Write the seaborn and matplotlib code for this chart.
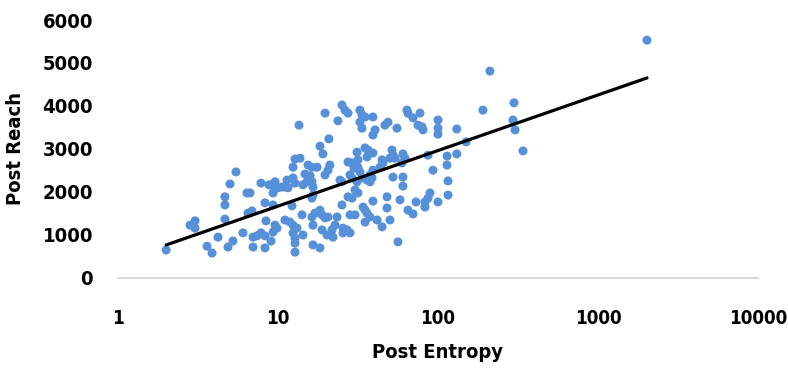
import matplotlib
matplotlib.use("Agg")
import matplotlib.pyplot as plt
import seaborn as sns
import pandas as pd

# Post Entropy (x, log scale) and Post Reach (y)
entropy = [
    2.0, 2.82, 3.03, 3.03, 3.60, 3.87, 4.22, 4.66, 4.66, 4.66, 5.01, 5.46, 4.87, 5.23,
    6.04, 6.40, 6.68, 6.49, 6.88, 7.83, 8.29, 8.41, 6.98, 7.39, 7.83, 8.29, 6.98, 8.29,
    8.78, 9.04,
    9.18, 9.58, 9.31, 10.0, 10.59, 11.06, 11.55, 11.38, 12.41, 12.77, 14.33, 15.18, 16.31,
    16.55, 24.4, 25.1, 29.0, 31.2, 30.3, 31.6, 29.0, 27.4, 16.31, 16.55, 9.31, 12.23,
    11.06, 11.89, 12.41, 14.13, 16.31, 17.03, 18.30, 18.84, 19.67, 20.53, 23.37, 22.71,
    25.1, 28.2, 30.3, 9.58, 9.86, 9.31, 13.15, 12.41, 12.77, 14.33, 16.55, 18.84, 20.24,
    21.75, 22.06, 25.48, 26.99, 28.2, 25.48, 12.77, 12.77, 16.55, 18.30,
    13.53, 19.67, 25.1, 26.2, 27.4, 23.7, 20.8, 18.30, 19.1, 12.77, 13.73, 12.41, 15.4,
    16.31, 17.53, 14.75, 15.85, 21.1, 20.53, 19.67, 27.4, 29.0, 28.2, 29.85,
    32.5, 33.5, 35.0, 32.5, 33.5, 39.2, 40.4, 39.2, 46.6, 48.7, 55.4, 64.0, 64.9, 69.8,
    77.2, 75.0, 79.4, 80.6, 100, 100, 100, 35.0, 36.5, 36.0, 39.2, 31.2, 31.6, 44.7,
    45.3, 43.4, 51.6, 52.3, 50.1, 53.9, 60.4, 62.2, 59.6, 86.6, 113.8, 93.0, 39.2, 37.6,
    52.3, 60.4, 31.6, 32.5,
    33.5, 36.0, 38.7, 37.6, 60.4, 115.5, 115.5, 89.1, 86.6, 82.9, 82.9, 100, 72.9, 48.0,
    39.2, 57.9, 34.0, 35.0, 36.0, 37.6, 48.0, 64.9, 69.8, 41.6, 44.7, 50.1, 35.0, 56.2,
    2024, 211, 298.5, 191, 294, 303, 131, 150, 340, 114, 131,
]
reach = [
    640, 1220, 1320, 1150, 730, 570, 940, 1360, 1690, 1880, 2180, 2460, 710, 850,
    1040, 1970, 1970, 1500, 1550, 2200, 1740, 1320, 940, 970, 1040, 970, 710, 690,
    2160, 850,
    2160, 2230, 1970, 2090, 2110, 2110, 2090, 2270, 2320, 2200, 2160, 2230, 2230,
    2110, 2270, 2230, 2320, 2230, 2040, 1970, 1850, 1880, 1850, 1920, 1690, 1670,
    1340, 1290, 1220, 1460, 1410, 1500, 1570, 1460, 1390, 1410, 1410, 1220,
    1690, 1460, 1460, 1220, 1150, 1060, 1150, 1040, 920, 990, 1220, 1110, 990,
    1110, 940, 1150, 1110, 1040, 1040, 800, 590, 760, 690,
    3550, 3830, 4020, 3900, 3830, 3650, 3230, 3060, 2880, 2760, 2780, 2570, 2620,
    2570, 2570, 2410, 2370, 2620, 2500, 2390, 2690, 2670, 2390, 2550,
    3900, 3790, 3740, 3620, 3480, 3740, 3440, 3320, 3550, 3620, 3480, 3900, 3830, 3720,
    3830, 3550, 3510, 3440, 3670, 3480, 3340, 3020, 2970, 2810, 2900, 2920, 2740, 2740,
    2670, 2570, 2970, 2850, 2780, 2780, 2880, 2780, 2670, 2850, 2620, 2500, 2500, 2390,
    2340, 2340, 2570, 2460,
    2320, 2270, 2320, 2230, 2130, 2250, 1920, 1970, 1850, 1760, 1640, 1760, 1760, 1880,
    1780, 1810, 1640, 1570, 1500, 1410, 1620, 1570, 1480, 1340, 1180, 1340, 1290, 830,
    5530, 4810, 4070, 3900, 3670, 3440, 3460, 3160, 2950, 2830, 2880,
]

x_ticks = [1, 10, 100, 1000, 10000]
x_tick_labels = ["1", "10", "100", "1000", "10000"]
y_ticks = [0, 1000, 2000, 3000, 4000, 5000, 6000]

df = pd.DataFrame({"Post Entropy": entropy, "Post Reach": reach})

sns.set_theme(style="white")
FONT = ["DejaVu Sans Condensed", "Liberation Sans Narrow", "DejaVu Sans"]
plt.rcParams["font.family"] = FONT
plt.rcParams["font.stretch"] = "condensed"
for key in ["text.color", "axes.labelcolor", "xtick.color", "ytick.color"]:
    plt.rcParams[key] = "black"

fig = plt.figure(figsize=(7.88, 3.73), dpi=100)
ax = fig.add_axes([118 / 788, 1 - 277.5 / 373, 640 / 788, 257.5 / 373])

sns.scatterplot(data=df, x="Post Entropy", y="Post Reach", ax=ax,
                color="#5590D9", s=42, edgecolor="none", linewidth=0, zorder=2)
sns.regplot(data=df, x="Post Entropy", y="Post Reach", ax=ax, logx=True,
            scatter=False, ci=None, truncate=True,
            line_kws={"color": "black", "linewidth": 2.3, "zorder": 3})

ax.set_xscale("log")
ax.set_xlim(1, 10000)
ax.set_ylim(0, 6000)
ax.set_xticks(x_ticks)
ax.set_xticklabels(x_tick_labels)
ax.xaxis.set_minor_locator(matplotlib.ticker.NullLocator())
ax.set_yticks(y_ticks)

for s in ["top", "right", "left"]:
    ax.spines[s].set_visible(False)
ax.spines["bottom"].set_color("#D9D9D9")
ax.spines["bottom"].set_linewidth(1.5)
ax.spines["bottom"].set_zorder(1)

ax.tick_params(axis="both", length=0, colors="black")
ax.tick_params(axis="y", pad=18)
ax.tick_params(axis="x", pad=23)
for lab in ax.get_yticklabels():
    lab.set_fontweight("bold")
    lab.set_fontsize(14.5)
    lab.set_family(FONT)
    lab.set_fontstretch("condensed")
    lab.set_color("black")
for lab in ax.get_xticklabels():
    lab.set_fontweight("bold")
    lab.set_fontsize(13.5)
    lab.set_family(FONT)
    lab.set_fontstretch("condensed")
    lab.set_color("black")

ax.set_xlabel("Post Entropy", fontsize=14.5, fontweight="bold", family=FONT,
              fontstretch="condensed", color="black")
ax.set_ylabel("Post Reach", fontsize=14.5, fontweight="bold", family=FONT,
              fontstretch="condensed", color="black")
ax.xaxis.set_label_coords(0.5, -0.255)
ax.yaxis.set_label_coords(-0.145, 0.5)
ax.grid(False)

fig.savefig("out.png", dpi=100, facecolor="white")
